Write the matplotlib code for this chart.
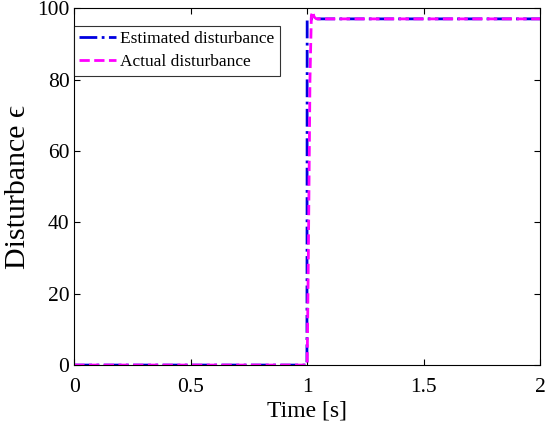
import matplotlib.pyplot as plt
import numpy as np

plt.rcParams['font.family'] = ['Liberation Serif', 'DejaVu Serif']

# estimated disturbance (step at t = 1)
est_t = [0.0, 0.999, 1.0, 2.0]
est_d = [0.0, 0.0, 97.0, 97.0]

# actual disturbance, small lag and overshoot
act_t = [0.0, 1.0, 1.005, 1.012, 1.018, 1.024, 1.03, 1.04, 2.0]
act_d = [0.0, 0.0, 30.0, 80.0, 98.0, 99.0, 97.5, 97.0, 97.0]

fig = plt.figure(figsize=(5.5, 4.3), dpi=100)
ax = fig.add_axes([0.135, 0.151, 0.847, 0.83])

ax.plot(est_t, est_d, color='#0000e0', linestyle='-.', linewidth=2.0,
        label='Estimated disturbance')
ax.plot(act_t, act_d, color='#ff00ff', linestyle='--', linewidth=2.0,
        label='Actual disturbance')

ax.set_xlim(0, 2)
ax.set_ylim(0, 100)
ax.set_xticks([0, 0.5, 1, 1.5, 2])
ax.set_xticklabels(['0', '0.5', '1', '1.5', '2'])
ax.set_yticks([0, 20, 40, 60, 80, 100])
ax.tick_params(direction='in', labelsize=15.5, length=4, top=True, right=True)
ax.tick_params(axis='x', pad=9)
ax.set_xlabel('Time [s]', fontsize=17, labelpad=3)
ax.set_ylabel('Disturbance ϵ', fontsize=21.5, labelpad=4)

leg = ax.legend(loc='upper left', fontsize=12.5, frameon=True, fancybox=False,
                edgecolor='black', borderpad=0.3, handlelength=2.1,
                handletextpad=0.25, labelspacing=0.4, borderaxespad=0,
                bbox_to_anchor=(0.0, 0.95))
leg.get_frame().set_linewidth(0.8)

fig.savefig('out.png')
